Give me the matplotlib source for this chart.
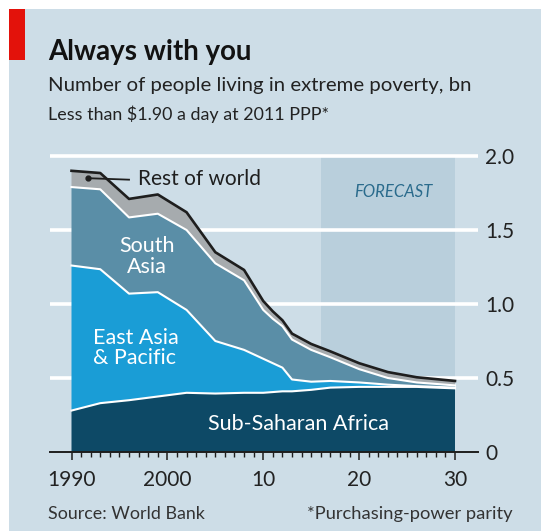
import matplotlib
matplotlib.use("Agg")
import matplotlib.pyplot as plt
from matplotlib.patches import Rectangle
from matplotlib.ticker import FixedLocator

# ---- data (bn people, stacked components) ----
years = [1990, 1993, 1996, 1999, 2002, 2005, 2008, 2010, 2011, 2012, 2013,
         2015, 2017, 2020, 2023, 2026, 2030]
sub_saharan = [0.28, 0.33, 0.35, 0.375, 0.40, 0.395, 0.40, 0.40, 0.405, 0.41,
               0.41, 0.42, 0.435, 0.44, 0.44, 0.44, 0.43]
east_asia = [0.98, 0.905, 0.72, 0.705, 0.56, 0.355, 0.29, 0.23, 0.195, 0.16,
             0.08, 0.055, 0.045, 0.03, 0.015, 0.005, 0.005]
south_asia = [0.53, 0.54, 0.515, 0.53, 0.54, 0.525, 0.47, 0.33, 0.30, 0.28,
              0.27, 0.215, 0.16, 0.09, 0.045, 0.025, 0.015]
rest_world = [0.11, 0.11, 0.125, 0.13, 0.12, 0.075, 0.07, 0.06, 0.05, 0.04,
              0.04, 0.04, 0.04, 0.04, 0.04, 0.035, 0.03]
forecast_start, forecast_end = 2016, 2030
ytick_vals = [0, 0.5, 1.0, 1.5, 2.0]
ytick_labels = ["0", "0.5", "1.0", "1.5", "2.0"]
xtick_vals = [1990, 2000, 2010, 2020, 2030]
xtick_labels = ["1990", "2000", "10", "20", "30"]

W, H = 541, 531
FONT = "Lato"
plt.rcParams['font.family'] = [FONT, 'DejaVu Sans']

BG = "#cddde7"
FC_BG = "#b9cfdc"
C_SSA = "#0d4966"
C_EAP = "#1a9dd6"
C_SA = "#5a8ea7"
C_ROW = "#a6abae"
DARK = "#1e1e1e"

fig = plt.figure(figsize=(W / 100, H / 100), dpi=100)
fig.patch.set_facecolor("white")

def fx(x):
    return x / W

def fy(y):
    return 1 - y / H

# background panel
fig.patches.append(Rectangle((fx(9), 0), 1 - fx(9), fy(9), transform=fig.transFigure,
                             facecolor=BG, edgecolor="none", zorder=-10))
# red tag
fig.patches.append(Rectangle((fx(9), fy(60)), fx(16), (51) / H, transform=fig.transFigure,
                             facecolor="#e3120b", edgecolor="none", zorder=-9))

fig.text(fx(48), fy(52), "Always with you", fontsize=19.9, fontweight="bold",
         color="#121212", va="center", ha="left")
fig.text(fx(48), fy(86), "Number of people living in extreme poverty, bn", fontsize=14.7,
         color="#222222", va="center", ha="left")
fig.text(fx(48), fy(114), "Less than $1.90 a day at 2011 PPP*", fontsize=12.9,
         color="#222222", va="center", ha="left")
fig.text(fx(48), fy(514), "Source: World Bank", fontsize=12.9,
         color="#333333", va="center", ha="left")
fig.text(fx(513), fy(514), "*Purchasing-power parity", fontsize=13.2,
         color="#333333", va="center", ha="right")

# axes
ymax = 2.05
x_left_px, x_right_px = 50, 478
px_per_year = (455 - 71.5) / 40
xl = 1990 - (71.5 - x_left_px) / px_per_year
xr = 2030 + (x_right_px - 455) / px_per_year
y0_px = 452
px_per_unit = 148
ax = fig.add_axes([fx(x_left_px), (H - y0_px) / H, (x_right_px - x_left_px) / W,
                   ymax * px_per_unit / H])
ax.set_facecolor("none")
ax.set_xlim(xl, xr)
ax.set_ylim(0, ymax)

ax.axvspan(forecast_start, forecast_end, ymin=0, ymax=2.0 / ymax, color=FC_BG,
           lw=0, zorder=0)
for v in ytick_vals[1:]:
    ax.axhline(v, color="white", lw=2.6, zorder=1)

stacks = ax.stackplot(years, sub_saharan, east_asia, south_asia, rest_world,
                      colors=[C_SSA, C_EAP, C_SA, C_ROW], lw=0, zorder=2)

cum1 = [a for a in sub_saharan]
cum2 = [a + b for a, b in zip(cum1, east_asia)]
cum3 = [a + b for a, b in zip(cum2, south_asia)]
cum4 = [a + b for a, b in zip(cum3, rest_world)]
for c in (cum1, cum2, cum3):
    ax.plot(years, c, color="white", lw=1.5, zorder=3, solid_joinstyle="round")
ax.plot(years, cum4, color=DARK, lw=1.9, zorder=4, solid_joinstyle="round")

# labels
ax.text(1997.9, 1.32, "South\nAsia", color="white", fontsize=15.5, ha="center",
        va="center", linespacing=1.05, zorder=5)
ax.text(1992.2, 0.705, "East Asia\n& Pacific", color="white", fontsize=15.5, ha="left",
        va="center", linespacing=1.0, zorder=5)
ax.text(2004.2, 0.19, "Sub-Saharan Africa", color="white", fontsize=15.5, ha="left",
        va="center", zorder=5)
ax.text(2023.6, 1.76, "FORECAST", color="#2a6b8c", fontsize=12, style="italic",
        ha="center", va="center", zorder=5)
# rest of world leader
ax.plot([1991.75, 1996.0], [1.85, 1.84], color=DARK, lw=1.3, zorder=5)
ax.plot([1991.75], [1.85], marker="o", ms=3.5, color=DARK, zorder=5)
ax.text(1996.9, 1.845, "Rest of world", color="#1e1e1e", fontsize=15, ha="left",
        va="center", zorder=5)

# spines & ticks
for s in ("top", "left", "right"):
    ax.spines[s].set_visible(False)
ax.spines["bottom"].set_color(DARK)
ax.spines["bottom"].set_linewidth(1.4)
ax.xaxis.set_major_locator(FixedLocator(xtick_vals))
ax.xaxis.set_minor_locator(FixedLocator(list(range(1990, 2031))))
ax.set_xticklabels(xtick_labels)
ax.tick_params(axis="x", which="major", direction="out", length=6, width=1.1,
               color=DARK, labelsize=15, labelcolor="#222222", pad=7)
ax.tick_params(axis="x", which="minor", direction="out", length=3.8, width=1.0,
               color=DARK)
ax.yaxis.tick_right()
ax.set_yticks(ytick_vals)
ax.set_yticklabels(ytick_labels)
ax.tick_params(axis="y", length=0, labelsize=15, labelcolor="#222222", pad=5)

fig.savefig("out.png", dpi=100, facecolor=fig.get_facecolor())
